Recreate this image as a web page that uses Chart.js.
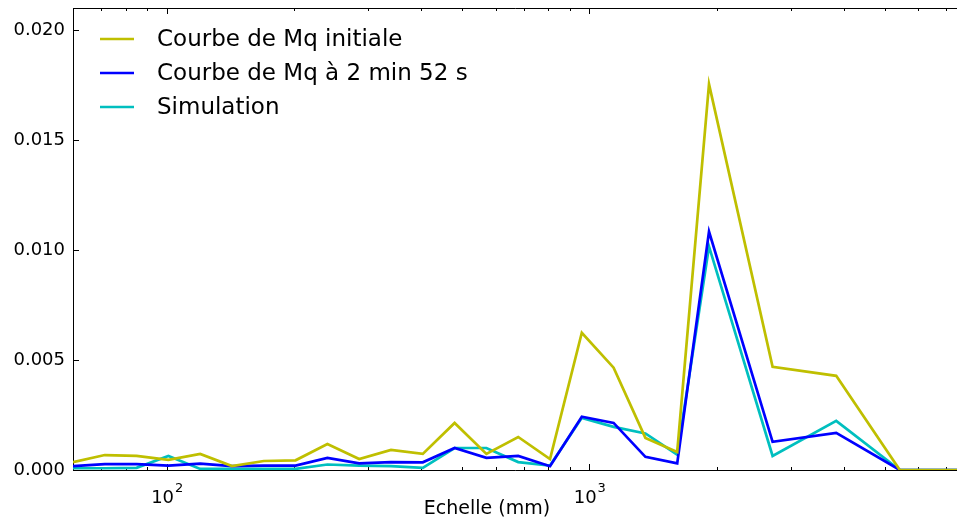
<!DOCTYPE html>
<html>
<head>
<meta charset="utf-8">
<script src="https://cdn.jsdelivr.net/npm/chart.js@4"></script>
<style>
  html, body { margin: 0; padding: 0; background: #fff; overflow: hidden; }
  #wrap { position: relative; width: 957px; height: 520px; }
</style>
</head>
<body>
<div id="wrap"><canvas id="chart" width="957" height="520"></canvas></div>
<script>
// scales in mm (quarter-octave steps from 60 mm)
const echelles = [60, 71.35, 84.85, 100.9, 120, 142.7, 169.7, 201.8, 240, 285.4, 339.4, 403.6, 480, 570.8, 678.8, 807.3,
  960, 1141.6, 1357.6, 1614.5, 1920, 2283, 2715, 3229, 3840, 4567, 5431, 6458, 7680];

const mqInitiale = [0.00036, 0.00068, 0.00064, 0.00046, 0.00073, 0.00018, 0.00041, 0.00044, 0.00118, 0.00050, 0.00091, 0.00073,
  0.00214, 0.00073, 0.00150, 0.00050, 0.00624, 0.00465, 0.00146, 0.00082, 0.01754, null, 0.00469, null, 0.00428, null, 0, null, 0];

const mq252 = [0.00018, 0.00027, 0.00027, 0.00020, 0.00029, 0.00018, 0.00020, 0.00020, 0.00055, 0.00030, 0.00036, 0.00035,
  0.00100, 0.00055, 0.00064, 0.00017, 0.00242, 0.00214, 0.00060, 0.00030, 0.01084, null, 0.00128, null, 0.00169, null, 0, null, 0];

const simulation = [0.00008, 0.00008, 0.00010, 0.00064, 0.00005, 0.00005, 0.00005, 0.00005, 0.00025, 0.00020, 0.00018, 0.00010,
  0.00100, 0.00100, 0.00036, 0.00020, 0.00237, 0.00196, 0.00166, 0.00070, 0.01016, null, 0.00064, null, 0.00223, null, 0, null, 0];

const seriesNames = ['Courbe de Mq initiale', 'Courbe de Mq à 2 min 52 s', 'Simulation'];
const seriesColors = ['#bfbf00', '#0000ff', '#00bfbf'];
const yTicks = [0, 0.005, 0.010, 0.015, 0.020];
const xMajor = [100, 1000];
const xTitle = 'Echelle (mm)';

const FONT = "'DejaVu Sans', sans-serif";

const toPoints = (arr) => echelles.map((x, i) => ({ x: x, y: arr[i] })).filter(p => p.y !== null);

// matplotlib-like frame with inward ticks, 10^n labels, legend
const framePlugin = {
  id: 'frame',
  beforeDatasetsDraw(chart) {
    const { ctx, chartArea: a, scales: { x, y } } = chart;
    ctx.save();
    ctx.strokeStyle = '#000';
    ctx.lineWidth = 1;
    ctx.beginPath();
    ctx.moveTo(a.right + 5, Math.round(a.top) + 0.5);
    ctx.lineTo(Math.round(a.left) + 0.5, Math.round(a.top) + 0.5);
    ctx.lineTo(Math.round(a.left) + 0.5, Math.round(a.bottom) + 0.5);
    ctx.lineTo(a.right + 5, Math.round(a.bottom) + 0.5);
    ctx.stroke();

    ctx.beginPath();
    for (let e = 1; e <= 3; e++) {
      for (let d = 1; d <= 9; d++) {
        const v = d * Math.pow(10, e);
        if (v < x.min || v > x.max) continue;
        const px = Math.round(x.getPixelForValue(v)) + 0.5;
        const len = d === 1 ? 6 : 3;
        ctx.moveTo(px, a.bottom);
        ctx.lineTo(px, a.bottom - len);
        ctx.moveTo(px, a.top);
        ctx.lineTo(px, a.top + len);
      }
    }
    yTicks.forEach(v => {
      const py = Math.round(y.getPixelForValue(v)) + 0.5;
      ctx.moveTo(a.left, py);
      ctx.lineTo(a.left + 6, py);
    });
    ctx.stroke();

    // x labels as 10 with a raised exponent
    ctx.fillStyle = '#000';
    ctx.textBaseline = 'alphabetic';
    xMajor.forEach(v => {
      const px = x.getPixelForValue(v);
      const exp = String(Math.round(Math.log10(v)));
      ctx.font = '18px ' + FONT;
      const wBase = ctx.measureText('10').width;
      ctx.font = '13px ' + FONT;
      const wExp = ctx.measureText(exp).width;
      const x0 = px - (wBase + wExp) / 2;
      ctx.font = '18px ' + FONT;
      ctx.fillText('10', x0, a.bottom + 33);
      ctx.font = '13px ' + FONT;
      ctx.fillText(exp, x0 + wBase + 1, a.bottom + 22);
    });

    ctx.font = '19px ' + FONT;
    ctx.textAlign = 'center';
    ctx.textBaseline = 'middle';
    ctx.fillText(xTitle, 487, a.bottom + 39);
    ctx.restore();
  },
  afterDatasetsDraw(chart) {
    const { ctx } = chart;
    ctx.save();
    ctx.font = '23px ' + FONT;
    ctx.textBaseline = 'middle';
    ctx.fillStyle = '#000';
    chart.data.datasets.forEach((ds, i) => {
      const yy = 39 + i * 34;
      ctx.strokeStyle = ds.borderColor;
      ctx.lineWidth = 2.7;
      ctx.beginPath();
      ctx.moveTo(100, yy);
      ctx.lineTo(134, yy);
      ctx.stroke();
      ctx.fillText(ds.label, 157, yy + 1);
    });
    ctx.restore();
  }
};

new Chart(document.getElementById('chart'), {
  type: 'line',
  data: {
    datasets: [
      { label: seriesNames[0], data: toPoints(mqInitiale), borderColor: seriesColors[0] },
      { label: seriesNames[1], data: toPoints(mq252), borderColor: seriesColors[1] },
      { label: seriesNames[2], data: toPoints(simulation), borderColor: seriesColors[2] }
    ]
  },
  options: {
    responsive: false,
    animation: false,
    devicePixelRatio: 1,
    layout: { padding: { top: 8, left: 0, right: 0, bottom: 0 } },
    elements: {
      line: { borderWidth: 2.7, tension: 0, fill: false },
      point: { radius: 0 }
    },
    plugins: {
      legend: { display: false },
      tooltip: { enabled: false }
    },
    scales: {
      x: {
        type: 'logarithmic',
        min: 60,
        max: 7416,
        grid: { display: false, drawTicks: false },
        border: { display: false },
        afterBuildTicks: (s) => { s.ticks = xMajor.map(v => ({ value: v })); },
        ticks: { autoSkip: false, maxRotation: 0, callback: () => '' },
        afterFit: (s) => {
          s.height = 50;
          s.paddingLeft = 0; s.paddingRight = 0; s.paddingTop = 0; s.paddingBottom = 0;
        }
      },
      y: {
        min: 0,
        max: 0.021,
        grid: { display: false, drawTicks: false },
        border: { display: false },
        afterBuildTicks: (s) => { s.ticks = yTicks.map(v => ({ value: v })); },
        ticks: {
          autoSkip: false,
          padding: 8,
          color: '#000',
          font: { family: FONT, size: 18 },
          callback: (v) => v.toFixed(3)
        },
        afterFit: (s) => {
          s.width = 73;
          s.paddingLeft = 0; s.paddingRight = 0; s.paddingTop = 0; s.paddingBottom = 0;
        }
      }
    }
  },
  plugins: [framePlugin]
});
</script>
</body>
</html>
